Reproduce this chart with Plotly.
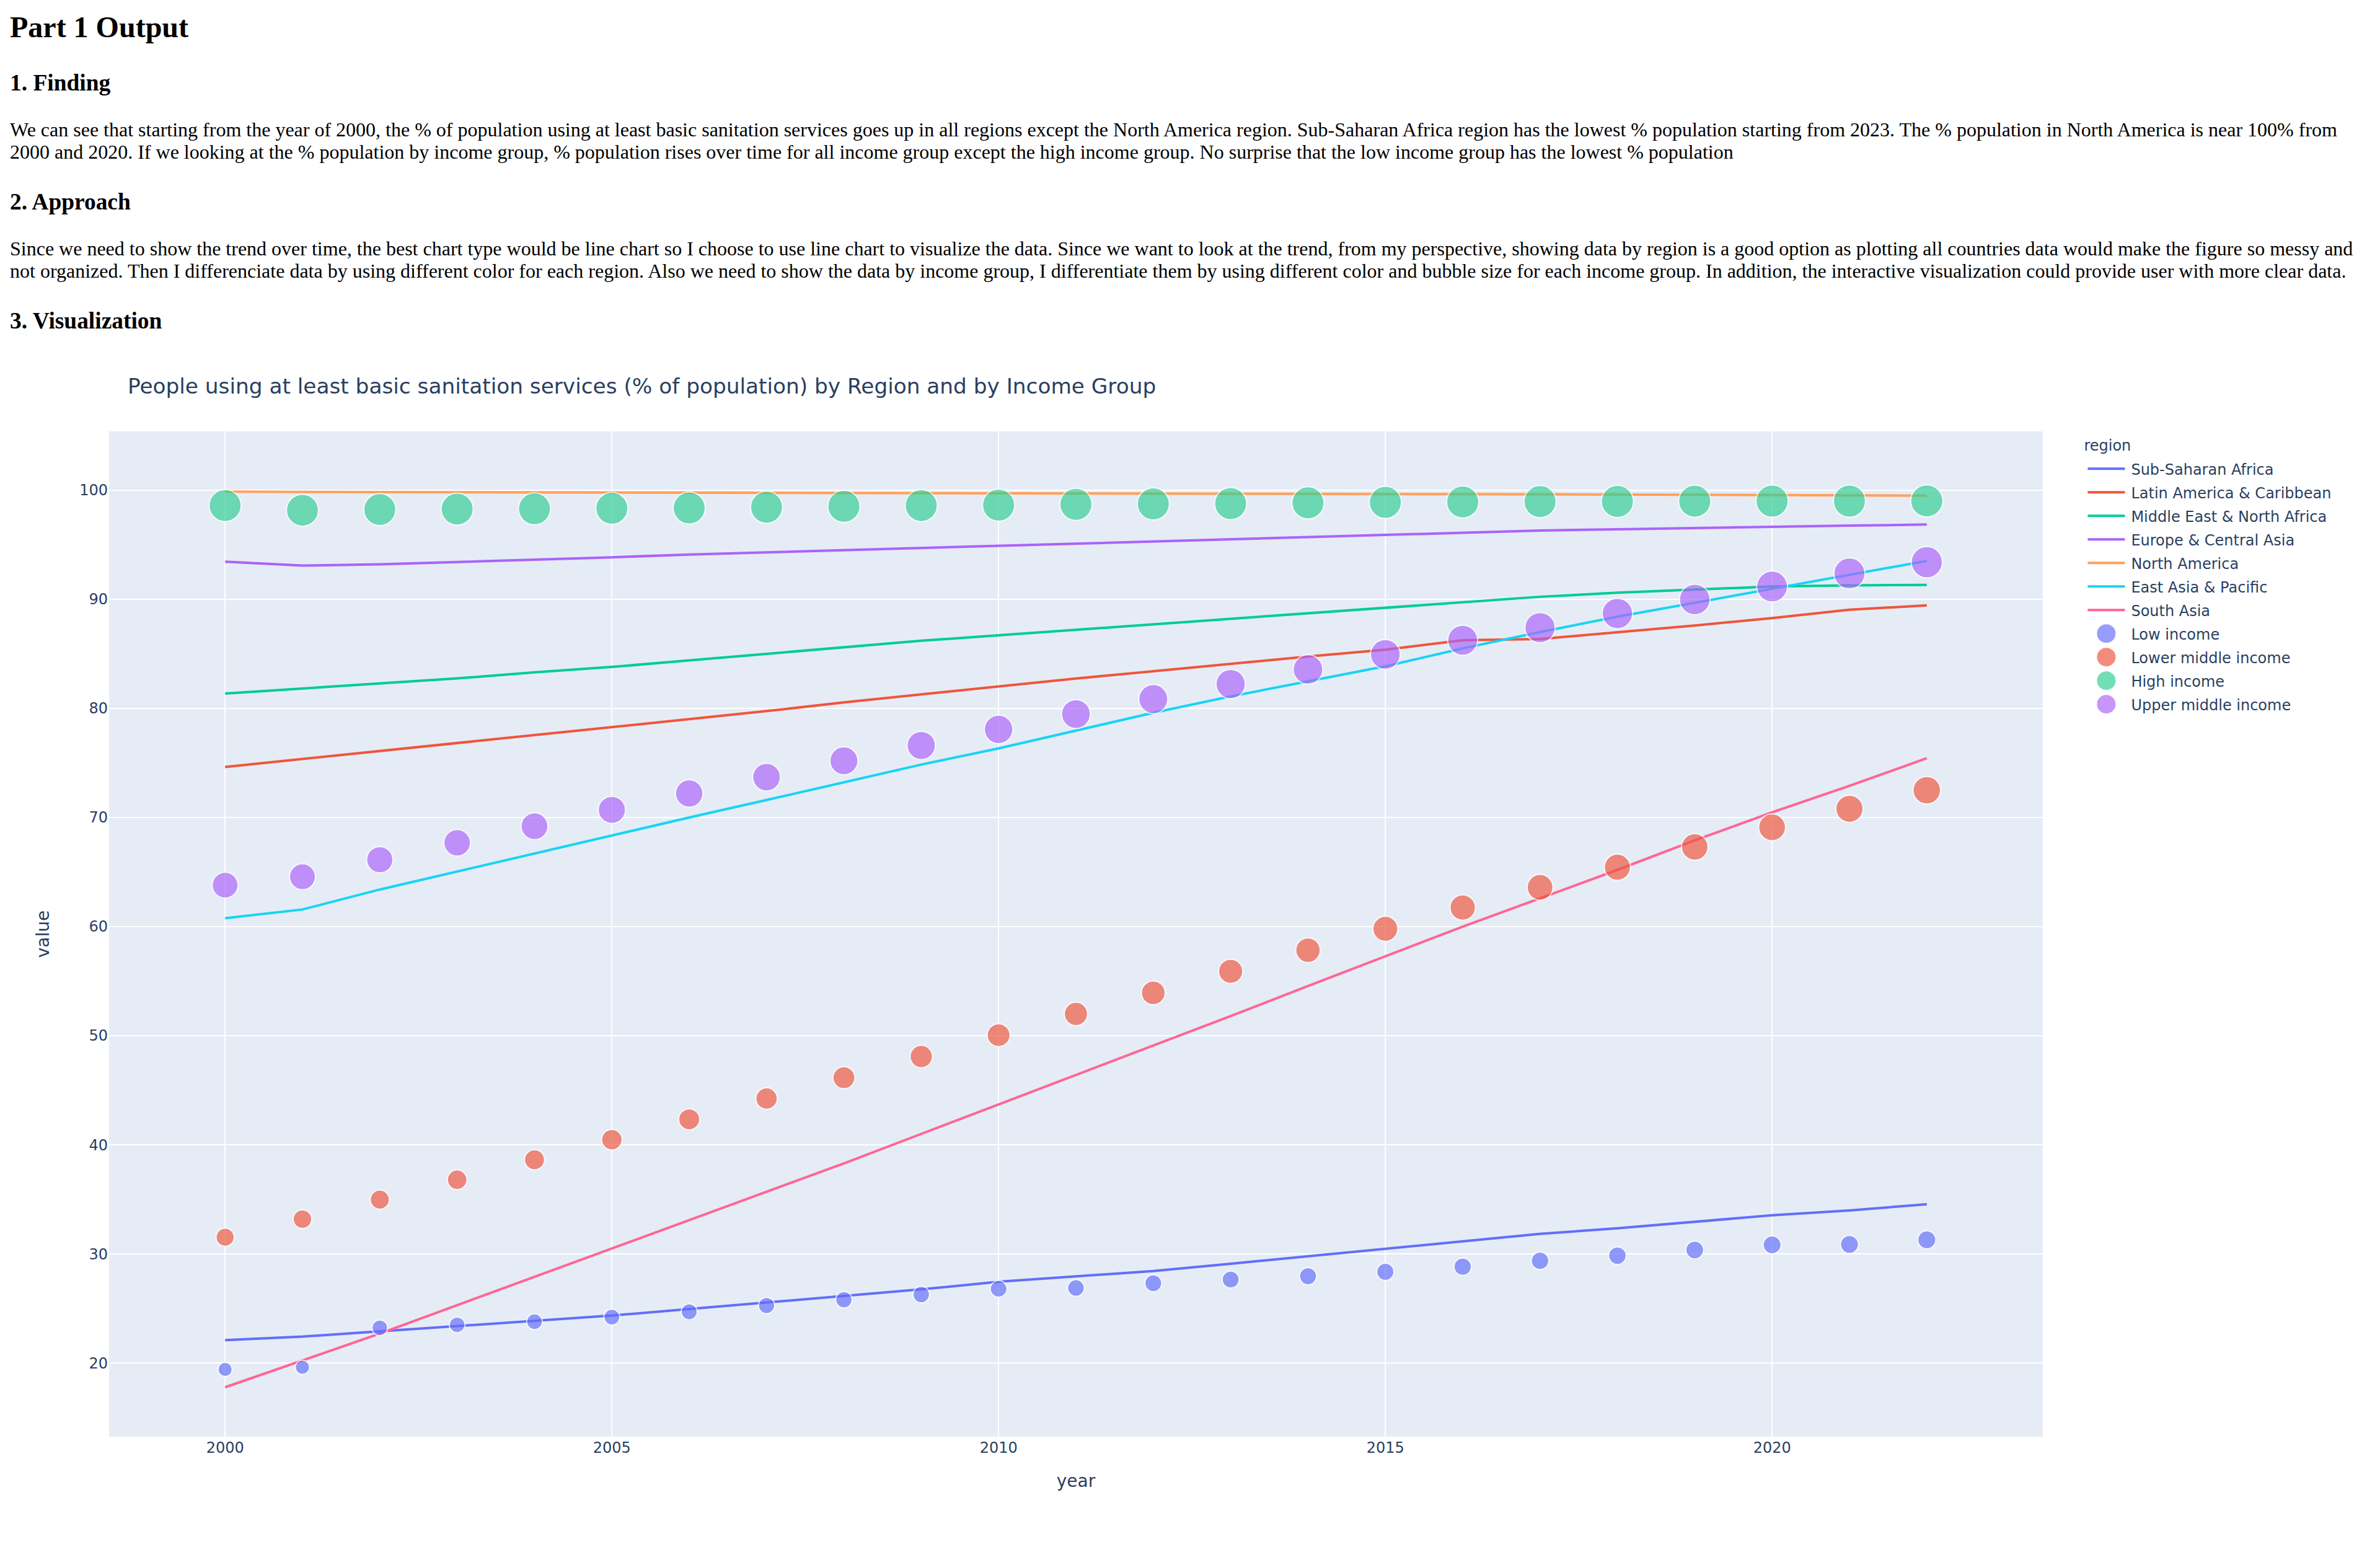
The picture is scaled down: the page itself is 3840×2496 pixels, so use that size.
import plotly.graph_objects as go

years = list(range(2000, 2023))

sub_saharan = [22.1,22.42,22.9,23.38,23.85,24.35,24.95,25.55,26.15,26.75,27.45,27.9,28.43,29.1,29.78,30.49,31.17,31.84,32.35,32.96,33.54,33.99,34.55]
latin_america = [74.63,75.35,76.1,76.8,77.55,78.29,79.0,79.75,80.55,81.3,82.05,82.74,83.4,84.1,84.75,85.38,86.25,86.36,86.94,87.6,88.28,89.04,89.44]
middle_east = [81.36,81.82,82.25,82.75,83.3,83.8,84.4,85.0,85.6,86.2,86.7,87.2,87.73,88.2,88.72,89.25,89.75,90.23,90.6,90.9,91.17,91.28,91.31]
europe = [93.45,93.09,93.2,93.4,93.62,93.85,94.1,94.3,94.52,94.72,94.94,95.1,95.3,95.5,95.73,95.95,96.1,96.3,96.42,96.55,96.67,96.75,96.85]
north_america = [99.86,99.85,99.84,99.83,99.82,99.81,99.8,99.79,99.78,99.77,99.76,99.75,99.75,99.72,99.7,99.68,99.65,99.62,99.6,99.56,99.53,99.5,99.5]
east_asia = [60.77,61.57,63.4,65.05,66.75,68.37,70.0,71.6,73.2,74.85,76.33,78.0,79.6,81.1,82.5,83.86,85.5,87.0,88.4,89.7,91.0,92.3,93.52]
south_asia = [17.78,20.24,22.7,25.3,27.9,30.45,33.1,35.7,38.3,41.0,43.68,46.4,49.1,51.8,54.55,57.26,60.0,62.6,65.2,67.9,70.47,72.9,75.43]

low_income = [19.41,19.61,23.23,23.5,23.79,24.21,24.7,25.27,25.8,26.28,26.8,26.88,27.31,27.65,27.96,28.36,28.83,29.37,29.84,30.36,30.83,30.87,31.3]
lower_middle = [31.53,33.19,34.98,36.8,38.63,40.47,42.34,44.24,46.15,48.1,50.05,52.0,53.93,55.9,57.84,59.8,61.75,63.6,65.44,67.3,69.1,70.8,72.5]
high_income = [98.59,98.16,98.23,98.27,98.3,98.34,98.37,98.44,98.52,98.59,98.63,98.7,98.74,98.77,98.84,98.88,98.92,98.95,98.97,98.99,99.0,99.0,99.02]
upper_middle = [63.8,64.57,66.13,67.68,69.2,70.7,72.2,73.7,75.2,76.6,78.07,79.48,80.86,82.23,83.57,84.95,86.25,87.4,88.7,89.98,91.17,92.37,93.4]

regions = [
    ("Sub-Saharan Africa", sub_saharan, "#636EFA"),
    ("Latin America & Caribbean", latin_america, "#EF553B"),
    ("Middle East & North Africa", middle_east, "#00CC96"),
    ("Europe & Central Asia", europe, "#AB63FA"),
    ("North America", north_america, "#FFA15A"),
    ("East Asia & Pacific", east_asia, "#19D3F3"),
    ("South Asia", south_asia, "#FF6692"),
]
incomes = [
    ("Low income", low_income, "#636EFA"),
    ("Lower middle income", lower_middle, "#EF553B"),
    ("High income", high_income, "#30CE93"),
    ("Upper middle income", upper_middle, "#AB63FA"),
]

title_text = "People using at least basic sanitation services (% of population) by Region and by Income Group"
page_texts = [
    ("<b>Part 1 Output</b>", 24, 44),
    ("<b>1. Finding</b>", 18.72, 133),
    ("We can see that starting from the year of 2000, the % of population using at least basic sanitation services goes up in all regions except the North America region. Sub-Saharan Africa region has the lowest % population starting from 2023. The % population in North America is near 100% from", 16, 210),
    ("2000 and 2020. If we looking at the % population by income group, % population rises over time for all income group except the high income group. No surprise that the low income group has the lowest % population", 16, 247),
    ("<b>2. Approach</b>", 18.72, 325),
    ("Since we need to show the trend over time, the best chart type would be line chart so I choose to use line chart to visualize the data. Since we want to look at the trend, from my perspective, showing data by region is a good option as plotting all countries data would make the figure so messy and", 16, 402.6),
    ("not organized. Then I differenciate data by using different color for each region. Also we need to show the data by income group, I differentiate them by using different color and bubble size for each income group. In addition, the interactive visualization could provide user with more clear data.", 16, 440),
    ("<b>3. Visualization</b>", 18.72, 518.5),
]

# Layout is expressed in the reference's CSS pixels; the page is shown at 2x.
FIG_W, FIG_H = 1904, 1230
BODY = 8
PL, PR, PT, PB = 87.5, 1648, 347.5, 1159.5

def to_paper_x(css):
    return (css - PL) / (PR - PL)

def to_paper_y(css):
    return (PB - css) / (PB - PT)

fig = go.Figure()
for name, vals, col in regions:
    fig.add_trace(go.Scatter(x=years, y=vals, mode="lines", name=name, line=dict(color=col, width=2)))
SIZE_MAX = 26
sizeref = 2 * 99.0 / SIZE_MAX ** 2
for name, vals, col in incomes:
    fig.add_trace(go.Scatter(x=years, y=vals, mode="markers", name=name,
                             marker=dict(color=col, size=vals, sizemode="area", sizeref=sizeref, opacity=0.67)))

annotations = [
    dict(text=t, x=to_paper_x(5), y=to_paper_y(yc / 2 - 1.2), xref="paper", yref="paper", showarrow=False,
         xanchor="left", yanchor="middle", align="left",
         font=dict(family="Liberation Serif", size=s, color="#000000"))
    for t, s, yc in page_texts
]

fig.update_layout(
    width=FIG_W, height=FIG_H,
    template="plotly",
    font=dict(family="DejaVu Sans"),
    margin=dict(l=PL - BODY, r=FIG_W + BODY - PR, t=PT - BODY, b=FIG_H + BODY - PB, pad=0, autoexpand=False),
    title=dict(text=title_text, x=(103 - BODY) / FIG_W, xanchor="left",
               y=1 - (623 / 2 - BODY) / FIG_H, yanchor="middle", font=dict(size=17.15)),
    xaxis=dict(title=dict(text="year"), range=[1998.5, 2023.5]),
    yaxis=dict(title=dict(text="value", standoff=20), range=[13.25, 105.39]),
    legend=dict(title=dict(text="region", font=dict(size=12)), tracegroupgap=0, x=1.02, y=1.0, xanchor="left", yanchor="top"),
    annotations=annotations,
)
fig.write_html("out.html", post_script="document.body.style.zoom = 2;")
